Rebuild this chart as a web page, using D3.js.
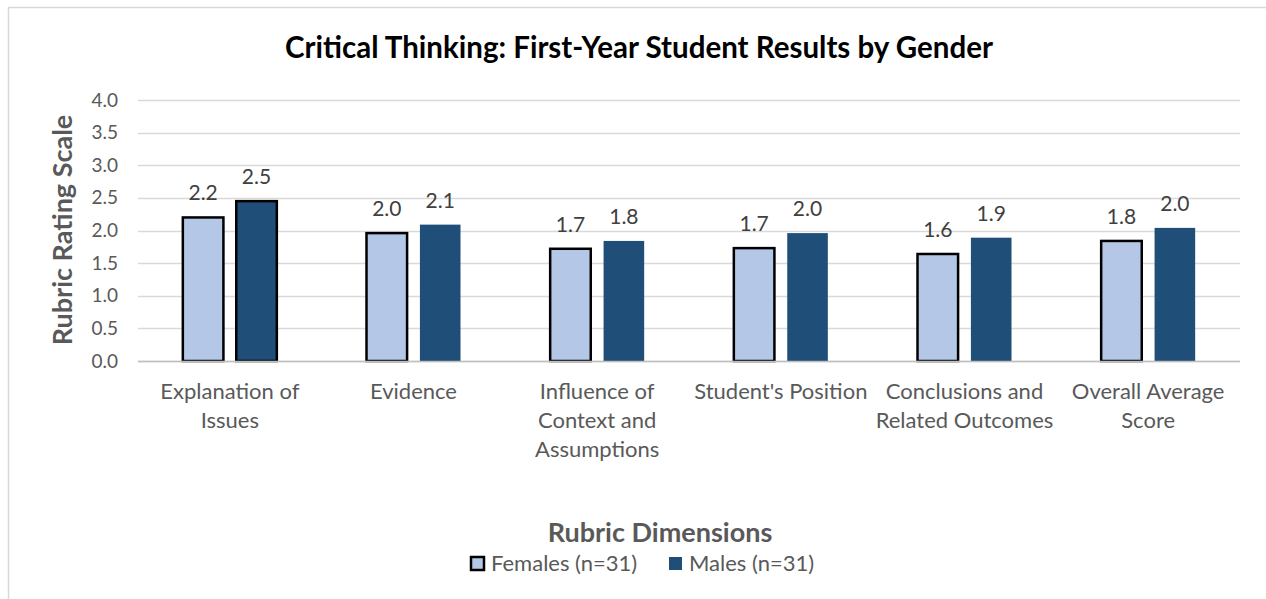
<!DOCTYPE html>
<html>
<head>
<meta charset="utf-8">
<script src="https://cdn.jsdelivr.net/npm/d3@7"></script>
<style>
  body { margin: 0; background: #fff; }
  svg { display: block; font-family: Lato, "Open Sans", sans-serif; }
</style>
</head>
<body>
<svg width="1266" height="599"></svg>
<script>
// chart data
const categories = [
    ["Explanation of", "Issues"],
    ["Evidence"],
    ["Influence of", "Context and", "Assumptions"],
    ["Student's Position"],
    ["Conclusions and", "Related Outcomes"],
    ["Overall Average", "Score"]
];
const females = [2.20, 1.96, 1.72, 1.73, 1.64, 1.84];
const males = [2.45, 2.09, 1.84, 1.96, 1.89, 2.04];
const seriesNames = ["Females (n=31)", "Males (n=31)"];
const yTicks = [0, 0.5, 1, 1.5, 2, 2.5, 3, 3.5, 4];

const svg = d3.select("svg");
const width = 1266, height = 599;
const margin = {top: 100, left: 138, right: 26, bottom: 238};

// chart frame, clipped at the right edge like the original
svg.append("rect")
    .attr("x", 8.5).attr("y", 7.5)
    .attr("width", 1300).attr("height", 700)
    .attr("fill", "none")
    .attr("stroke", "#d9d9d9")
    .attr("stroke-width", 1.5);

const x = d3.scaleBand()
    .domain(d3.range(categories.length))
    .range([margin.left, width - margin.right]);

const xInner = d3.scaleBand()
    .domain([0, 1])
    .range([0, 94])
    .paddingInner(0.24);

const y = d3.scaleLinear()
    .domain([0, 4])
    .range([height - margin.bottom, margin.top]);

// gridlines
svg.append("g")
    .selectAll("line")
    .data(yTicks)
    .join("line")
    .attr("x1", margin.left)
    .attr("x2", width - margin.right)
    .attr("y1", d => Math.round(y(d)) + 0.5)
    .attr("y2", d => Math.round(y(d)) + 0.5)
    .attr("stroke", "#d9d9d9")
    .attr("stroke-width", 1.5);

// y axis labels
const yAxis = svg.append("g")
    .attr("transform", `translate(${margin.left - 20},0)`)
    .call(d3.axisLeft(y).tickValues(yTicks).tickFormat(d3.format(".1f")).tickSize(0).tickPadding(0));
yAxis.select(".domain").remove();
yAxis.selectAll("text")
    .attr("font-size", 19)
    .attr("font-family", "Lato, sans-serif")
    .attr("fill", "#595959");

const colors = ["#b4c7e7", "#1f4e79"];
const values = [females, males];

const bars = svg.append("g");
values.forEach((series, s) => {
    bars.selectAll(null)
        .data(series)
        .join("rect")
        .attr("x", (d, i) => x(i) + x.bandwidth() / 2 - 47 + xInner(s))
        .attr("y", d => y(d))
        .attr("width", xInner.bandwidth())
        .attr("height", d => y(0) - y(d))
        .attr("fill", colors[s])
        // females all outlined, males only the first group
        .attr("stroke", (d, i) => (s === 0 || i === 0) ? "#000" : "none")
        .attr("stroke-width", 2.5);

    bars.selectAll(null)
        .data(series)
        .join("text")
        .attr("x", (d, i) => x(i) + x.bandwidth() / 2 - 47 + xInner(s) + xInner.bandwidth() / 2)
        .attr("y", d => y(d) - 17)
        .attr("text-anchor", "middle")
        .attr("font-size", 21)
        .attr("fill", "#404040")
        .text(d => d3.format(".1f")(d));
});

// baseline
svg.append("line")
    .attr("x1", margin.left).attr("x2", width - margin.right)
    .attr("y1", y(0) + 0.5).attr("y2", y(0) + 0.5)
    .attr("stroke", "#bfbfbf")
    .attr("stroke-width", 1.5);

// category labels
const catLabels = svg.append("g")
    .selectAll("text")
    .data(categories)
    .join("text")
    .attr("x", (d, i) => x(i) + x.bandwidth() / 2)
    .attr("y", 399)
    .attr("text-anchor", "middle")
    .attr("font-size", 22)
    .attr("fill", "#595959");
catLabels.selectAll("tspan")
    .data(d => d)
    .join("tspan")
    .attr("x", function() { return this.parentNode.getAttribute("x"); })
    .attr("dy", (d, i) => i === 0 ? 0 : 29)
    .text(d => d);

// title
svg.append("text")
    .attr("x", 639)
    .attr("y", 58)
    .attr("text-anchor", "middle")
    .attr("font-size", 29.5)
    .attr("font-weight", "bold")
    .attr("fill", "#000")
    .text("Critical Thinking: First-Year Student Results by Gender");

// axis titles
svg.append("text")
    .attr("transform", "translate(72,230) rotate(-90)")
    .attr("text-anchor", "middle")
    .attr("font-size", 27)
    .attr("font-weight", "bold")
    .attr("fill", "#595959")
    .text("Rubric Rating Scale");

svg.append("text")
    .attr("x", 660)
    .attr("y", 542)
    .attr("text-anchor", "middle")
    .attr("font-size", 27)
    .attr("font-weight", "bold")
    .attr("fill", "#595959")
    .text("Rubric Dimensions");

// legend
const legendX = [471, 669];
const legend = svg.append("g")
    .selectAll("g")
    .data(seriesNames)
    .join("g")
    .attr("transform", (d, i) => `translate(${legendX[i]},557)`);
legend.append("rect")
    .attr("width", 13).attr("height", 13)
    .attr("fill", (d, i) => colors[i])
    .attr("stroke", (d, i) => i === 0 ? "#000" : "none")
    .attr("stroke-width", 2.5);
legend.append("text")
    .attr("x", 20)
    .attr("y", 14)
    .attr("font-size", 22)
    .attr("fill", "#595959")
    .text(d => d);
</script>
</body>
</html>
